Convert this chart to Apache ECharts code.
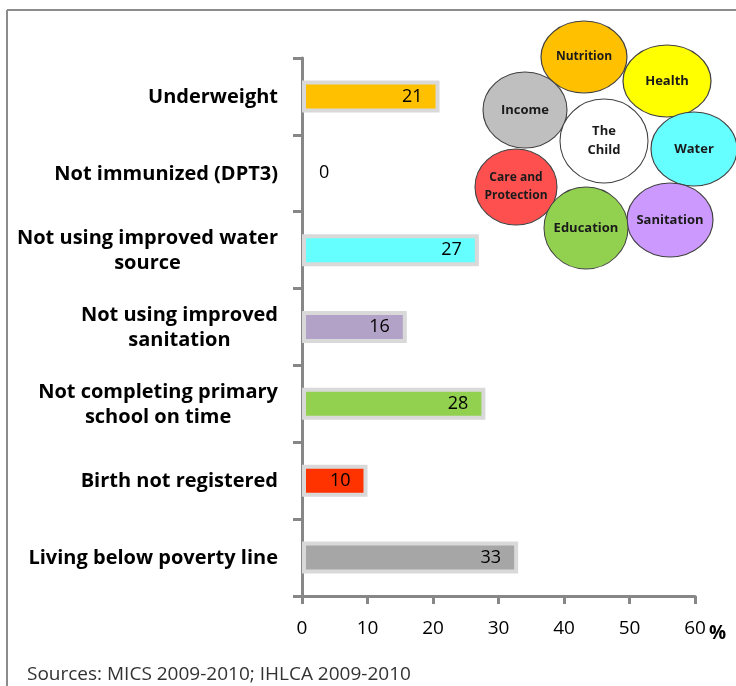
<!DOCTYPE html>
<html>
<head>
<meta charset="utf-8">
<script src="https://cdn.jsdelivr.net/npm/echarts@6/dist/echarts.min.js"></script>
<style>
  html, body { margin: 0; padding: 0; background: #fff; }
  #chart { width: 736px; height: 686px; }
</style>
</head>
<body>
<div id="chart"></div>
<script>
// Child deprivation indicators (% of children)
const categories = [
  'Underweight',
  'Not immunized (DPT3)',
  'Not using improved water\nsource',
  'Not using improved\nsanitation',
  'Not completing primary\nschool on time',
  'Birth not registered',
  'Living below poverty line'
];
const values = [21, 0, 27, 16, 28, 10, 33];
const barColors = ['#FFC000', '#FFFF00', '#66FFFF', '#B3A2C7', '#92D050', '#FF3300', '#A6A6A6'];

const xTicks = [0, 10, 20, 30, 40, 50, 60];
const sourceNote = 'Sources: MICS 2009-2010; IHLCA 2009-2010';

// Dimensions of child well-being shown around "The Child"
const bubbleNames = ['Nutrition', 'Health', 'Income', 'The\nChild', 'Water', 'Care and\nProtection', 'Sanitation', 'Education'];
const bubbleColors = ['#FFC000', '#FFFF00', '#BFBFBF', '#FFFFFF', '#66FFFF', '#FF5050', '#CC99FF', '#92D050'];
// [centre x, centre y, radius x, radius y, font size]
const bubbleLayout = [
  [584, 57, 43, 36, 12],
  [667, 81, 44, 36, 13],
  [525, 110, 42, 38, 13],
  [604, 141, 44, 42, 13],
  [694, 149, 43, 37, 13],
  [516, 187, 41, 38, 12],
  [670, 220, 43, 37, 13],
  [586, 228, 42, 41, 13]
];

const FONT = '"Open Sans", Lato, sans-serif';
const AXIS_GREY = '#878787';

const chart = echarts.init(document.getElementById('chart'), null, { renderer: 'canvas' });

const barData = values.map((v, i) => {
  const item = { value: v, itemStyle: { color: barColors[i] } };
  if (v === 0) {
    item.itemStyle.borderWidth = 0;
    item.label = { position: 'right', distance: 17 };
  }
  return item;
});

const bubbleGraphics = [];
bubbleNames.forEach((name, i) => {
  const [cx, cy, rx, ry, fs] = bubbleLayout[i];
  bubbleGraphics.push({
    type: 'circle',
    x: cx, y: cy,
    scaleX: rx / ry, scaleY: 1,
    shape: { cx: 0, cy: 0, r: ry },
    style: { fill: bubbleColors[i], stroke: '#404040', lineWidth: 1, strokeNoScale: true },
    z: 10 + i
  });
  bubbleGraphics.push({
    type: 'text',
    x: cx, y: cy,
    style: {
      text: name, fill: '#1a1a1a', font: 'bold ' + fs + 'px ' + FONT,
      align: 'center', verticalAlign: 'middle', lineHeight: fs + 6
    },
    z: 30 + i
  });
});

const option = {
  backgroundColor: '#fff',
  animation: false,
  grid: { left: 302, right: 41, top: 58, bottom: 90, containLabel: false },
  xAxis: {
    type: 'value',
    min: 0, max: 60, interval: 10,
    axisLine: { show: true, lineStyle: { color: AXIS_GREY, width: 3 } },
    axisTick: { show: true, length: 8, lineStyle: { color: AXIS_GREY, width: 3 } },
    splitLine: { show: false },
    axisLabel: {
      margin: 23, fontSize: 19, color: '#000', fontFamily: FONT,
      formatter: v => (xTicks.indexOf(v) >= 0 ? String(v) : '')
    }
  },
  yAxis: {
    type: 'category',
    inverse: true,
    data: categories,
    axisLine: { show: true, lineStyle: { color: AXIS_GREY, width: 3 } },
    axisTick: { show: true, length: 9, lineStyle: { color: AXIS_GREY, width: 3 } },
    axisLabel: {
      margin: 24, align: 'right',
      formatter: v => v.split('\n').map(l => '{c|' + l + '}').join('\n'),
      rich: {
        c: { align: 'center', fontSize: 20, fontWeight: 'bold', color: '#000', fontFamily: FONT, lineHeight: 25, padding: [2, 0, 0, 0] }
      }
    }
  },
  series: [{
    type: 'bar',
    data: barData,
    barWidth: 32,
    itemStyle: { borderColor: '#D9D9D9', borderWidth: 4 },
    label: {
      show: true, position: 'insideRight', distance: 17,
      color: '#000', fontSize: 18, fontFamily: FONT
    },
    z: 3
  }],
  graphic: [
    { type: 'line', shape: { x1: 7, y1: 10, x2: 736, y2: 10 }, style: { stroke: '#8C8C8C', lineWidth: 2 } },
    { type: 'line', shape: { x1: 7, y1: 10, x2: 7, y2: 686 }, style: { stroke: '#8C8C8C', lineWidth: 2 } },
    { type: 'text', x: 709, y: 634, style: { text: '%', fill: '#000', font: 'bold 19px ' + FONT, verticalAlign: 'middle' } },
    { type: 'text', x: 27, y: 675, style: { text: sourceNote, fill: '#333', font: '19px ' + FONT, verticalAlign: 'middle' } }
  ].concat(bubbleGraphics)
};

chart.setOption(option);
</script>
</body>
</html>
